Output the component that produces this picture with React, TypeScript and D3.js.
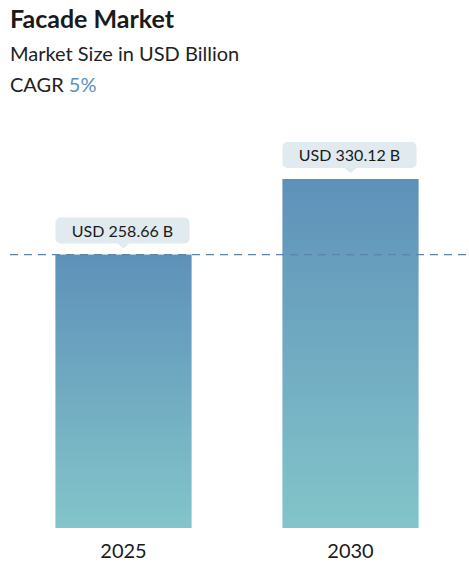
import React from "react";
import { scaleBand, scaleLinear } from "d3";

const years = ["2025", "2030"];
const values = [258.66, 330.12];
const valueLabels = ["USD 258.66 B", "USD 330.12 B"];
const cagr = "5%";

const W = 469;
const H = 570;
const FONT = "Lato, 'Open Sans', sans-serif";

export default function App() {
  const x = scaleBand().domain(years).range([10, 464]).paddingInner(0.4).paddingOuter(0.2);
  const y = scaleLinear().domain([0, values[1]]).range([528, 179]);
  const bw = x.bandwidth();

  return (
    <svg width={W} height={H} style={{ position: "absolute", left: 0, top: 0, background: "#fff" }}>
      <defs>
        <linearGradient id="barGrad" x1="0" y1="0" x2="0" y2="1">
          <stop offset="0%" stopColor="#5e91b9" />
          <stop offset="100%" stopColor="#83c5ca" />
        </linearGradient>
      </defs>
      <text x={10} y={28} fontFamily={FONT} fontWeight={700} fontSize={25} fill="#1a1a1a">Facade Market</text>
      <text x={10} y={61} fontFamily={FONT} fontSize={20} fill="#222">Market Size in USD Billion</text>
      <text x={10} y={92} fontFamily={FONT} fontSize={20} fill="#222">
        CAGR <tspan fill="#5b8fc0">{cagr}</tspan>
      </text>

      {years.map((yr, i) => {
        const bx = x(yr) as number;
        const top = y(values[i]);
        const cx = bx + bw / 2;
        const boxW = 134;
        const boxH = 26;
        const boxY = top - 37;
        return (
          <g key={yr}>
            <rect x={bx} y={top} width={bw} height={y(0) - top} fill="url(#barGrad)" />
            <rect x={cx - boxW / 2 - 1} y={boxY} width={boxW} height={boxH} rx={5} fill="#e0eaef" />
            <path d={`M${cx - 6},${boxY + boxH} L${cx},${boxY + boxH + 5} L${cx + 6},${boxY + boxH} Z`} fill="#e0eaef" />
            <text x={cx - 1} y={boxY + 19} textAnchor="middle" fontFamily={FONT} fontSize={16} fill="#1a1a1a">
              {valueLabels[i]}
            </text>
            <text x={cx} y={558} textAnchor="middle" fontFamily={FONT} fontSize={20} fill="#1a1a1a">{yr}</text>
          </g>
        );
      })}

      <line x1={10} x2={469} y1={y(values[0])} y2={y(values[0])} stroke="#5b84a8" strokeWidth={1.2} strokeDasharray="8,6" />
    </svg>
  );
}
